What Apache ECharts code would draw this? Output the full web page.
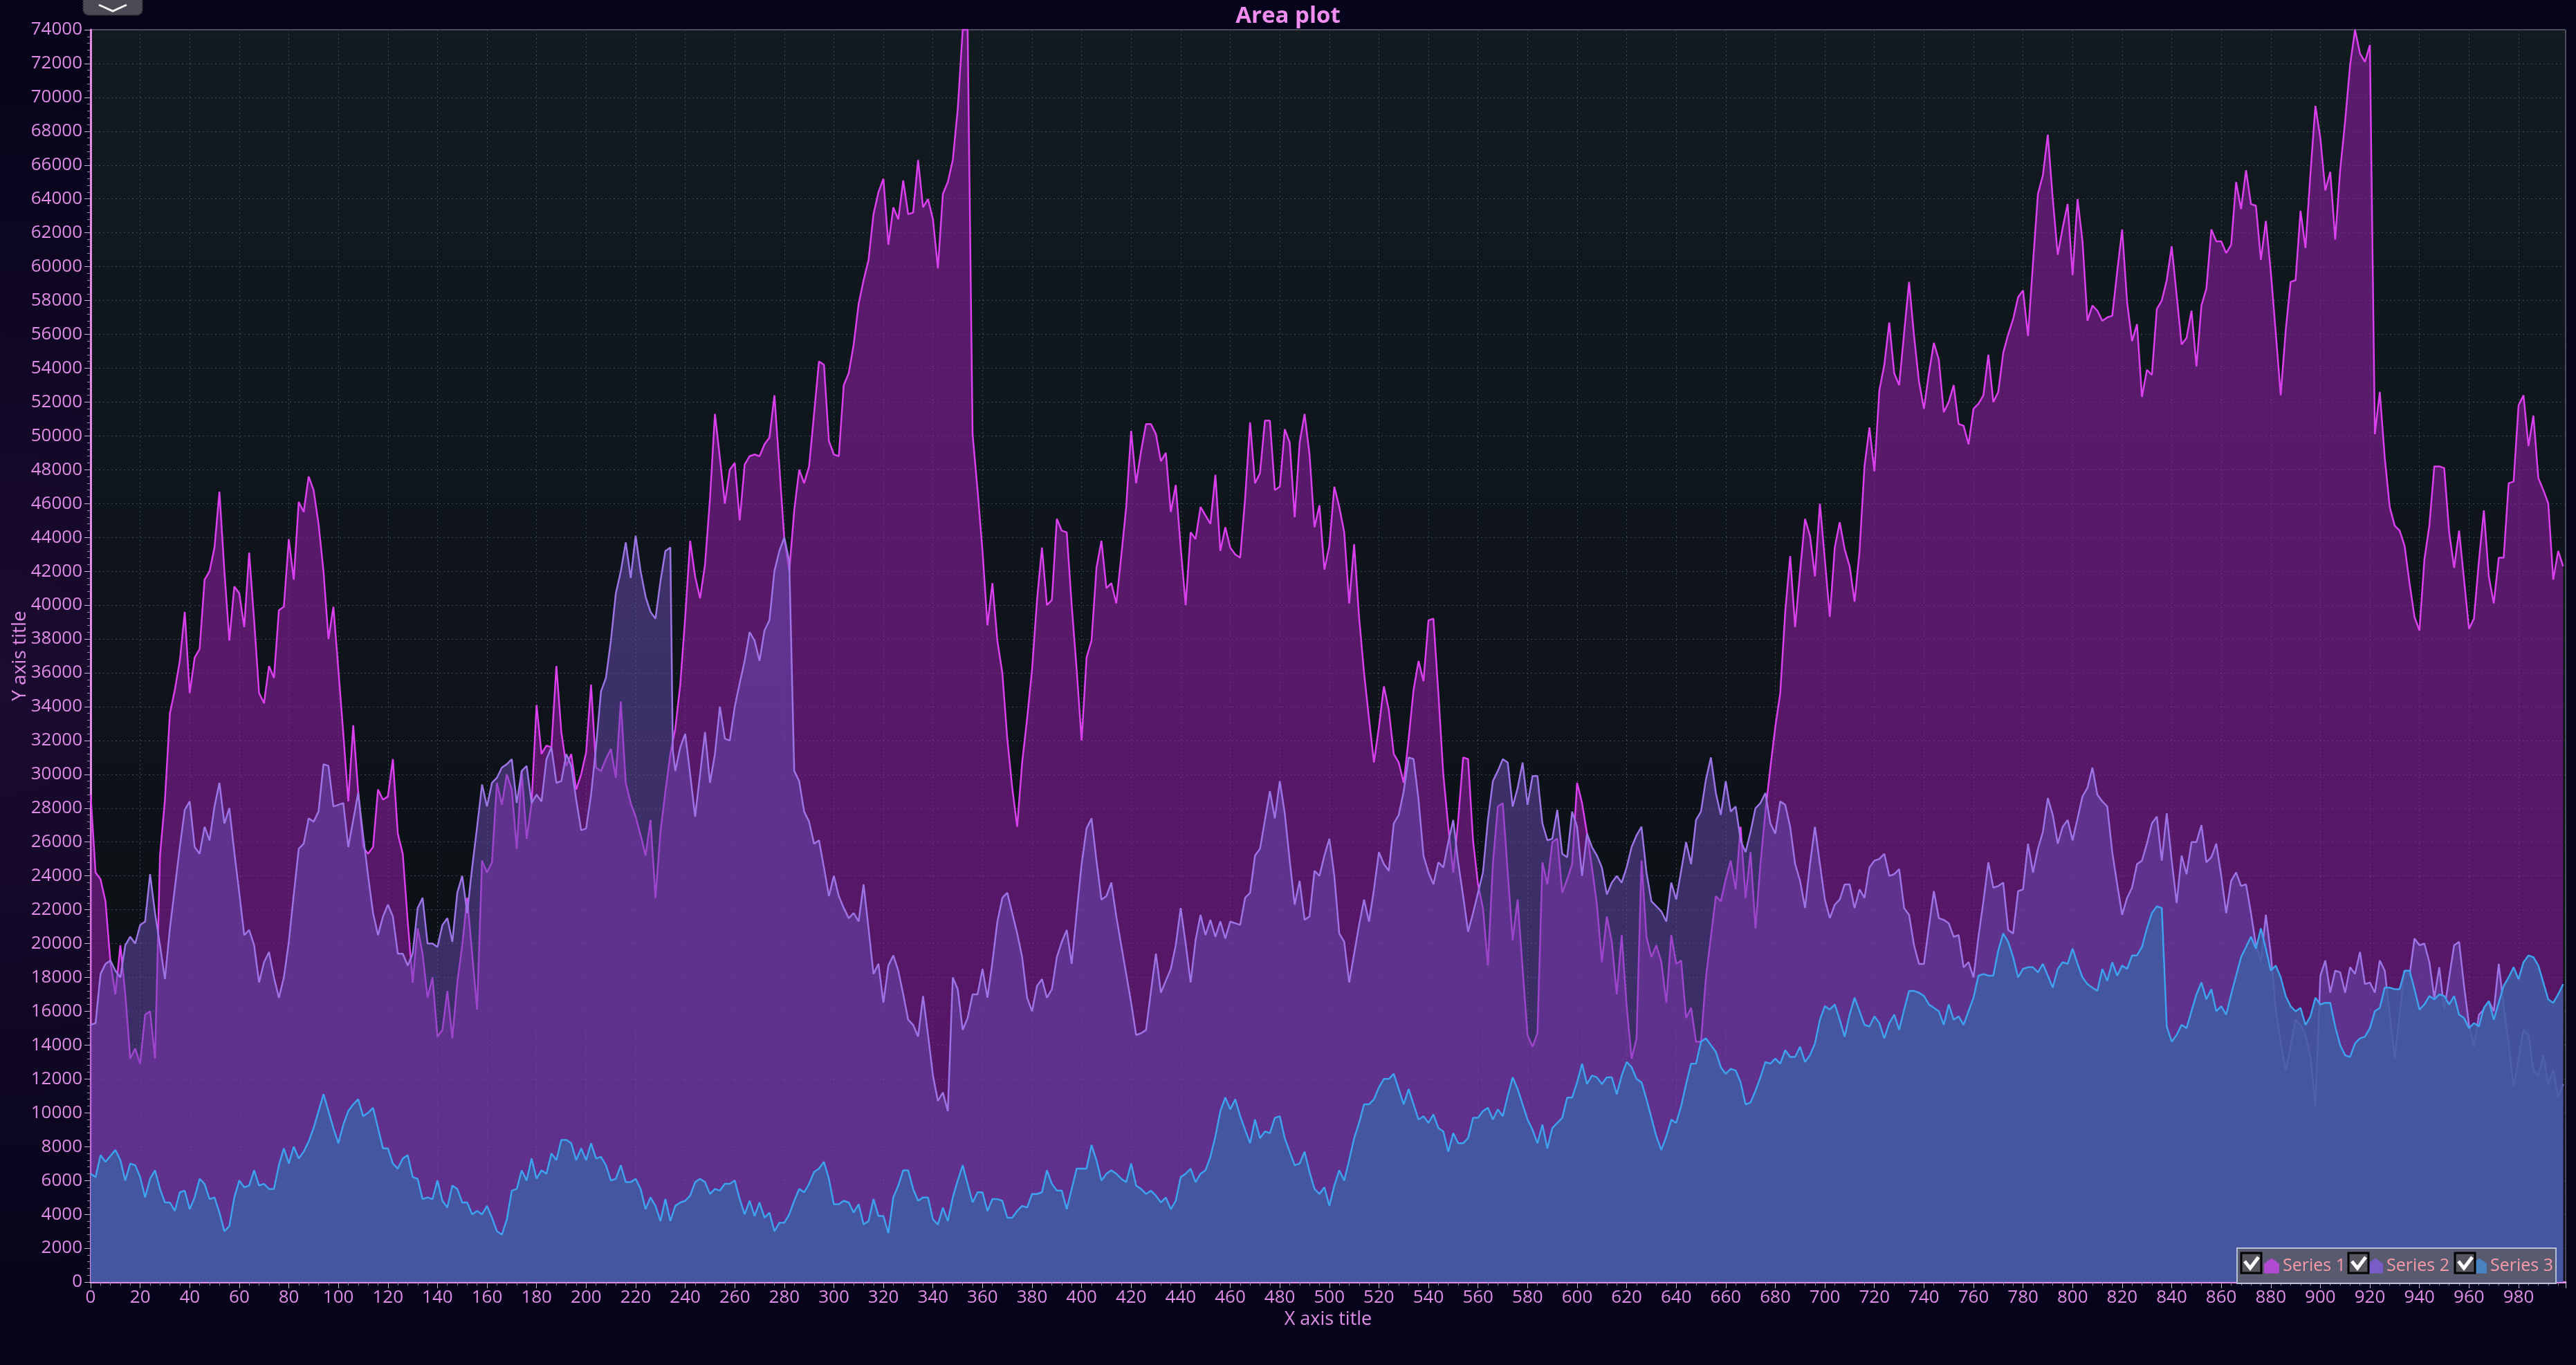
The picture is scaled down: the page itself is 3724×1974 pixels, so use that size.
<html>
<head>
<meta charset="utf-8">
<title>Area plot</title>
<script src="https://cdn.jsdelivr.net/npm/echarts/dist/echarts.min.js"></script>
<style>
  html, body { margin: 0; padding: 0; background: #06041a; }
  #main { width: 3724px; height: 1974px; }
</style>
</head>
<body>
<div id="main"></div>
<script type="text/javascript">
// values, [x, y]
var s1 = [[0,28800],[2,24200],[4,23800],[6,22500],[8,18900],[10,17000],[12,19900],[14,17000],[16,13200],[18,13800],[20,12900],[22,15800],[24,16000],[26,13200],[28,25200],[30,28500],[32,33600],[34,35000],[36,36700],[38,39600],[40,34800],[42,36900],[44,37400],[46,41500],[48,42000],[50,43400],[52,46700],[54,42000],[56,37900],[58,41100],[60,40700],[62,38700],[64,43100],[66,39100],[68,34800],[70,34200],[72,36400],[74,35700],[76,39700],[78,39900],[80,43900],[82,41500],[84,46100],[86,45500],[88,47600],[90,46800],[92,44800],[94,42000],[96,38000],[98,39900],[100,36200],[102,32400],[104,28400],[106,32900],[108,29000],[110,25700],[112,25300],[114,25700],[116,29100],[118,28500],[120,28700],[122,30900],[124,26500],[126,25300],[128,21300],[130,17700],[132,20900],[134,19400],[136,16800],[138,18000],[140,14500],[142,14900],[144,17200],[146,14400],[148,17700],[150,19900],[152,22700],[154,19400],[156,16100],[158,24900],[160,24200],[162,24800],[164,29500],[166,28200],[168,30000],[170,29100],[172,25600],[174,30200],[176,26200],[178,28300],[180,34100],[182,31200],[184,31700],[186,31600],[188,36400],[190,32500],[192,30500],[194,31200],[196,29100],[198,30000],[200,31300],[202,35300],[204,30400],[206,30200],[208,30900],[210,31500],[212,29800],[214,34300],[216,29500],[218,28300],[220,27500],[222,26400],[224,25200],[226,27300],[228,22700],[230,26600],[232,29000],[234,31200],[236,32700],[238,35300],[240,39300],[242,43800],[244,41700],[246,40400],[248,42400],[250,46300],[252,51300],[254,48700],[256,46000],[258,48000],[260,48400],[262,45000],[264,48300],[266,48800],[268,48900],[270,48800],[272,49500],[274,49900],[276,52400],[278,48200],[280,43900],[282,42000],[284,45600],[286,48000],[288,47200],[290,48200],[292,51300],[294,54400],[296,54200],[298,49700],[300,48900],[302,48800],[304,53000],[306,53700],[308,55400],[310,57800],[312,59200],[314,60400],[316,63100],[318,64400],[320,65200],[322,61300],[324,63500],[326,62800],[328,65100],[330,63100],[332,63200],[334,66300],[336,63500],[338,64000],[340,62800],[342,59900],[344,64300],[346,65000],[348,66300],[350,69300],[352,74000],[354,74000],[356,50100],[358,46800],[360,43200],[362,38800],[364,41300],[366,37900],[368,36000],[370,32100],[372,29200],[374,26900],[376,30700],[378,33300],[380,36200],[382,40300],[384,43400],[386,40000],[388,40300],[390,45100],[392,44400],[394,44300],[396,40000],[398,36200],[400,32000],[402,36900],[404,37900],[406,42200],[408,43800],[410,41000],[412,41300],[414,40100],[416,42900],[418,45800],[420,50300],[422,47200],[424,49100],[426,50700],[428,50700],[430,50100],[432,48500],[434,49000],[436,45500],[438,47100],[440,43400],[442,40000],[444,44300],[446,43900],[448,45800],[450,45300],[452,44800],[454,47700],[456,43200],[458,44600],[460,43400],[462,43000],[464,42800],[466,46300],[468,50800],[470,47200],[472,47800],[474,50900],[476,50900],[478,46800],[480,47000],[482,50400],[484,49600],[486,45200],[488,49600],[490,51300],[492,48900],[494,44600],[496,45900],[498,42100],[500,43500],[502,47000],[504,45800],[506,44300],[508,40100],[510,43600],[512,39300],[514,36000],[516,33300],[518,30700],[520,32800],[522,35200],[524,33800],[526,31200],[528,30700],[530,29500],[532,32100],[534,35000],[536,36700],[538,35500],[540,39100],[542,39200],[544,34800],[546,30000],[548,26900],[550,24200],[552,27300],[554,31000],[556,30900],[558,26100],[560,23500],[562,22100],[564,18700],[566,24700],[568,28100],[570,28300],[572,24200],[574,20200],[576,22600],[578,18500],[580,14600],[582,13900],[584,14700],[586,24800],[588,23500],[590,26000],[592,26200],[594,23000],[596,23800],[598,24700],[600,29500],[602,28300],[604,26500],[606,24500],[608,22300],[610,18900],[612,21600],[614,20100],[616,17000],[618,20500],[620,16300],[622,13200],[624,14400],[626,24900],[628,20400],[630,19200],[632,19900],[634,18900],[636,16500],[638,20500],[640,18800],[642,19000],[644,15600],[646,16200],[648,14200],[650,14200],[652,18000],[654,20400],[656,22800],[658,22500],[660,23800],[662,24900],[664,23200],[666,26900],[668,22700],[670,25400],[672,20900],[674,24700],[676,27800],[678,30400],[680,32800],[682,34800],[684,39600],[686,42900],[688,38700],[690,42000],[692,45100],[694,44100],[696,41700],[698,46000],[700,42700],[702,39300],[704,43400],[706,44900],[708,43300],[710,42300],[712,40200],[714,43200],[716,48200],[718,50500],[720,47900],[722,52700],[724,54200],[726,56700],[728,53700],[730,53000],[732,56100],[734,59100],[736,55900],[738,53200],[740,51600],[742,53700],[744,55500],[746,54500],[748,51400],[750,52000],[752,53000],[754,50700],[756,50600],[758,49500],[760,51600],[762,51900],[764,52400],[766,54800],[768,52000],[770,52600],[772,54900],[774,56000],[776,56900],[778,58200],[780,58600],[782,55900],[784,60200],[786,64300],[788,65400],[790,67800],[792,64000],[794,60700],[796,62300],[798,63700],[800,59500],[802,64000],[804,61500],[806,56800],[808,57700],[810,57400],[812,56800],[814,57000],[816,57100],[818,59700],[820,62200],[822,57900],[824,55600],[826,56600],[828,52300],[830,53900],[832,53600],[834,57500],[836,58000],[838,59200],[840,61200],[842,58300],[844,55400],[846,55800],[848,57400],[850,54100],[852,57700],[854,58700],[856,62200],[858,61500],[860,61500],[862,60800],[864,61300],[866,65000],[868,63400],[870,65700],[872,63700],[874,63600],[876,60400],[878,62700],[880,59700],[882,56100],[884,52400],[886,56200],[888,59100],[890,59200],[892,63300],[894,61100],[896,65500],[898,69500],[900,67600],[902,64500],[904,65600],[906,61600],[908,65700],[910,68600],[912,71900],[914,74000],[916,72600],[918,72100],[920,73100],[922,50100],[924,52600],[926,48700],[928,45800],[930,44700],[932,44400],[934,43500],[936,41300],[938,39300],[940,38500],[942,42700],[944,44700],[946,48200],[948,48200],[950,48100],[952,44300],[954,42200],[956,44400],[958,41500],[960,38600],[962,39200],[964,42600],[966,45600],[968,41700],[970,40100],[972,42800],[974,42800],[976,47200],[978,47300],[980,51800],[982,52400],[984,49400],[986,51200],[988,47500],[990,46800],[992,46000],[994,41500],[996,43200],[998,42300]];

var s2 = [[0,15200],[2,15300],[4,18200],[6,18800],[8,19000],[10,18400],[12,18000],[14,19900],[16,20400],[18,20000],[20,21100],[22,21300],[24,24100],[26,21800],[28,19900],[30,17900],[32,20900],[34,23300],[36,25700],[38,27900],[40,28400],[42,25700],[44,25300],[46,26900],[48,26100],[50,28100],[52,29500],[54,27100],[56,28000],[58,25400],[60,23000],[62,20500],[64,20800],[66,19900],[68,17700],[70,18900],[72,19500],[74,18000],[76,16800],[78,18000],[80,20100],[82,22900],[84,25600],[86,25900],[88,27400],[90,27200],[92,27800],[94,30600],[96,30500],[98,28100],[102,28300],[104,25700],[106,27300],[108,28900],[110,26400],[112,24000],[114,21800],[116,20500],[118,21600],[120,22300],[122,21600],[124,19400],[126,19400],[128,18700],[130,19400],[132,22100],[134,22700],[136,20000],[138,20000],[140,19800],[142,21100],[144,21500],[146,20100],[148,23000],[150,24000],[152,21800],[154,24500],[156,26900],[158,29400],[160,28100],[162,29500],[164,29800],[166,30400],[168,30600],[170,30900],[172,28300],[174,30200],[176,30500],[178,28300],[180,28800],[182,28400],[184,30900],[186,31600],[188,29500],[190,29600],[192,31200],[194,30500],[196,28500],[198,26700],[200,26800],[202,28800],[204,31600],[206,34900],[208,35700],[210,37900],[212,40700],[214,42000],[216,43700],[218,41600],[220,44100],[222,42000],[224,40500],[226,39600],[228,39200],[230,41400],[232,43200],[234,43400],[235,31400],[236,30200],[238,31600],[240,32400],[242,30000],[244,27500],[246,30000],[248,32500],[250,29500],[252,31200],[254,34000],[256,32100],[258,32000],[260,34000],[262,35400],[264,36700],[266,38400],[268,37900],[270,36700],[272,38500],[274,39100],[276,42000],[278,43200],[280,44000],[282,42600],[284,30200],[286,29600],[288,27800],[290,27200],[292,25900],[294,26100],[296,24500],[298,22800],[300,24000],[302,22800],[304,22100],[306,21500],[308,21800],[310,21300],[312,23500],[314,20900],[316,18200],[318,18800],[320,16500],[322,18700],[324,19300],[326,18400],[328,17000],[330,15500],[332,15200],[334,14500],[336,16900],[338,14600],[340,12200],[342,10700],[344,11200],[346,10100],[348,18000],[350,17300],[352,14900],[354,15600],[356,17000],[358,17000],[360,18500],[362,16800],[364,18900],[366,21300],[368,22700],[370,23000],[372,21800],[374,20600],[376,19200],[378,16800],[380,16000],[382,17500],[384,17900],[386,16800],[388,17300],[390,19200],[392,20100],[394,20800],[396,18800],[398,21800],[400,24700],[402,26800],[404,27400],[406,24900],[408,22600],[410,22800],[412,23600],[414,21600],[416,19900],[418,18200],[420,16500],[422,14600],[424,14700],[426,14900],[428,17200],[430,19400],[432,17100],[434,17800],[436,18500],[438,19900],[440,22100],[442,20000],[444,17700],[446,20200],[448,21700],[450,20500],[452,21400],[454,20400],[456,21300],[458,20300],[460,21300],[462,21200],[464,21100],[466,22700],[468,23000],[470,25200],[472,25600],[474,27300],[476,29000],[478,27400],[480,29600],[482,27700],[484,24900],[486,22300],[488,23700],[490,21400],[492,21600],[494,24300],[496,24000],[498,25200],[500,26200],[502,24000],[504,20600],[506,20100],[508,17700],[510,19400],[512,21100],[514,22600],[516,21300],[518,23200],[520,25400],[522,24700],[524,24300],[526,27100],[528,27600],[530,29000],[532,31000],[534,30900],[536,28500],[538,25200],[540,24200],[542,23500],[544,24800],[546,24500],[548,26000],[550,27300],[552,24800],[554,22800],[556,20700],[558,21800],[560,23000],[562,24200],[564,27300],[566,29600],[568,30200],[570,30900],[572,30700],[574,28100],[576,29200],[578,30700],[580,28200],[582,29900],[584,29900],[586,27100],[588,26100],[590,26200],[592,27900],[594,25300],[596,25100],[598,27800],[600,26900],[602,24000],[604,26500],[606,25700],[608,25200],[610,24500],[612,22900],[614,23600],[616,24000],[618,23600],[620,24500],[622,25700],[624,26400],[626,26900],[628,24200],[630,22500],[632,22200],[634,21900],[636,21300],[638,23600],[640,22600],[642,24300],[644,26000],[646,24700],[648,27300],[650,27800],[652,29700],[654,31000],[656,28900],[658,27600],[660,29600],[662,27800],[664,28100],[666,26100],[668,25400],[670,26600],[672,28000],[674,28300],[676,28900],[678,27100],[680,26500],[682,28400],[684,28200],[686,26900],[688,24700],[690,23700],[692,22100],[694,24700],[696,26900],[698,24700],[700,22600],[702,21500],[704,22300],[706,22600],[708,23500],[710,23500],[712,22100],[714,23200],[716,22700],[718,24500],[720,24900],[722,25000],[724,25300],[726,24000],[728,24100],[730,24400],[732,22100],[734,21700],[736,19900],[738,18800],[740,18800],[742,21000],[744,23100],[746,21500],[748,21400],[750,21200],[752,20400],[754,20500],[756,18600],[758,18900],[760,18000],[762,20400],[764,22500],[766,24800],[768,23300],[770,23400],[772,23600],[774,20800],[776,20600],[778,23100],[780,23200],[782,25900],[784,24200],[786,25600],[788,26600],[790,28600],[792,27600],[794,25900],[796,26900],[798,27300],[800,26100],[802,27400],[804,28700],[806,29200],[808,30400],[810,28800],[812,28400],[814,28100],[816,25400],[818,23500],[820,21700],[822,22700],[824,23300],[826,24700],[828,24900],[830,25900],[832,27100],[834,27500],[836,24900],[838,27700],[840,24900],[842,22400],[844,25200],[846,24100],[848,26000],[850,26000],[852,27000],[854,24800],[856,25100],[858,25900],[860,24000],[862,21800],[864,23700],[866,24200],[868,23400],[870,23500],[872,21800],[874,19900],[876,18900],[878,21700],[880,19400],[882,16100],[884,14100],[886,12500],[888,13900],[890,15500],[892,15200],[894,14600],[896,13300],[898,10400],[900,18100],[902,19000],[904,17100],[906,18400],[908,18300],[910,17100],[912,18600],[914,18200],[916,19500],[918,17600],[920,17700],[922,17100],[924,19000],[926,18400],[928,15800],[930,13200],[932,15800],[934,18400],[936,18100],[938,20300],[940,19900],[942,20000],[944,18900],[946,16800],[948,18600],[950,16100],[952,18000],[954,19900],[956,20100],[958,17500],[960,15200],[962,13900],[964,15800],[966,16100],[968,16600],[970,16000],[972,18800],[974,16300],[976,14100],[978,11500],[980,13200],[982,14900],[984,14600],[986,12500],[988,12200],[990,13400],[992,11700],[994,12500],[996,10900],[998,11700]];

var s3 = [[0,6400],[2,6200],[4,7500],[6,7100],[10,7800],[12,7200],[14,6000],[16,7000],[18,6900],[20,6200],[22,5000],[24,6100],[26,6600],[28,5500],[30,4700],[32,4700],[34,4200],[36,5300],[38,5400],[40,4300],[42,5000],[44,6100],[46,5800],[48,4900],[50,5000],[52,4100],[54,3000],[56,3300],[58,5000],[60,6000],[62,5600],[64,5700],[66,6600],[68,5700],[70,5800],[72,5500],[74,5500],[76,6900],[78,7900],[80,7000],[82,8000],[84,7300],[86,7700],[88,8300],[90,9100],[92,10100],[94,11100],[96,10100],[98,9100],[100,8200],[102,9300],[104,10100],[106,10500],[108,10800],[110,9800],[112,10000],[114,10300],[116,9100],[118,7900],[120,7900],[122,7000],[124,6700],[126,7300],[128,7500],[130,6200],[132,6100],[134,4900],[136,5000],[138,4900],[140,6000],[142,4800],[144,4400],[146,5700],[148,5500],[150,4700],[152,4700],[154,4000],[156,4200],[158,4000],[160,4500],[162,3800],[164,3000],[166,2800],[168,3700],[170,5400],[172,5500],[174,6600],[176,6000],[178,7300],[180,6100],[182,6600],[184,6400],[186,7600],[188,7200],[190,8400],[192,8400],[194,8200],[196,7200],[198,7900],[200,7200],[202,8200],[204,7300],[206,7400],[208,6900],[210,6000],[212,6100],[214,6900],[216,5900],[218,5900],[220,6100],[222,5500],[224,4300],[226,5000],[228,4500],[230,3600],[232,4900],[234,3600],[236,4500],[238,4700],[240,4800],[242,5100],[244,5900],[246,6100],[248,5900],[250,5200],[252,5500],[254,5400],[256,5800],[258,5800],[260,6000],[262,4900],[264,4000],[266,4800],[268,3900],[270,4700],[272,3800],[274,4100],[276,3000],[278,3500],[280,3500],[282,4000],[284,4800],[286,5500],[288,5300],[290,5800],[292,6500],[294,6700],[296,7100],[298,6100],[300,4600],[302,4600],[304,4800],[306,4700],[308,4100],[310,4600],[312,3400],[314,3600],[316,4900],[318,3900],[320,3900],[322,2900],[324,5000],[326,5700],[328,6600],[330,6600],[332,5500],[334,4800],[336,5000],[338,5000],[340,3700],[342,3400],[344,4400],[346,3600],[348,5000],[350,6000],[352,6900],[354,5800],[356,4700],[358,5300],[360,5300],[362,4200],[364,4900],[366,4900],[368,4800],[370,3800],[372,3800],[374,4200],[376,4500],[378,4400],[380,5200],[382,5200],[384,5300],[386,6600],[388,5800],[390,5400],[392,5400],[394,4300],[396,5500],[398,6700],[400,6700],[402,6700],[404,8100],[406,7200],[408,6000],[410,6400],[412,6600],[414,6400],[416,6100],[418,5900],[420,7000],[422,5700],[424,5500],[426,5200],[428,5400],[430,5100],[432,4700],[434,5000],[436,4300],[438,4800],[440,6200],[442,6400],[444,6700],[446,5900],[448,6400],[450,6600],[452,7400],[454,8600],[456,10100],[458,10900],[460,10200],[462,10800],[464,9800],[466,9000],[468,8200],[470,9600],[472,8500],[474,8900],[476,8800],[478,9700],[480,9800],[482,8500],[484,7700],[486,6900],[488,7000],[490,7700],[492,6500],[494,5500],[496,5200],[498,5600],[500,4500],[502,5700],[504,6600],[506,6000],[508,7200],[510,8500],[512,9400],[514,10500],[516,10500],[518,10800],[520,11500],[522,12000],[524,12000],[526,12300],[528,11400],[530,10500],[532,11400],[534,10500],[536,9600],[538,9800],[540,9400],[542,9900],[544,9100],[546,8900],[548,7700],[550,8800],[552,8200],[554,8200],[556,8500],[558,9700],[560,9700],[562,10100],[564,10300],[566,9600],[568,10200],[570,9800],[572,11000],[574,12100],[576,11400],[578,10500],[580,9600],[582,9000],[584,8200],[586,9300],[588,7900],[590,9100],[592,9400],[594,9700],[596,10900],[598,10900],[600,11800],[602,12900],[604,11700],[606,12200],[608,12100],[610,11700],[612,12100],[614,12100],[616,11100],[618,12200],[620,13000],[622,12700],[624,12000],[626,11800],[628,10800],[630,9700],[632,8600],[634,7800],[636,8600],[638,9600],[640,9400],[642,10400],[644,11700],[646,12900],[648,12900],[650,14200],[652,14400],[654,14000],[656,13600],[658,12700],[660,12300],[662,12600],[664,12500],[666,11800],[668,10500],[670,10600],[672,11300],[674,12100],[676,13000],[678,12900],[680,13200],[682,12900],[684,13700],[686,13300],[688,13300],[690,13900],[692,13000],[694,13400],[696,14100],[698,15500],[700,16300],[702,16100],[704,16400],[706,15500],[708,14500],[710,15800],[712,16800],[714,16000],[716,15200],[718,15100],[720,15700],[722,15300],[724,14400],[726,15300],[728,15800],[730,14900],[732,16100],[734,17200],[736,17200],[738,17100],[740,16900],[742,16400],[744,16200],[746,16000],[748,15200],[750,16400],[752,15500],[754,15700],[756,15200],[758,16000],[760,16800],[762,18100],[764,18200],[766,18100],[768,18100],[770,19600],[772,20600],[774,20100],[776,19200],[778,18000],[780,18500],[782,18600],[784,18600],[786,18300],[788,18800],[790,18100],[792,17400],[794,18500],[796,18900],[798,18800],[800,19700],[802,18800],[804,18000],[806,17600],[808,17400],[810,17200],[812,18500],[814,17800],[816,18900],[818,18100],[820,18700],[822,18500],[824,19300],[826,19300],[828,19800],[830,20900],[832,21800],[834,22200],[836,22100],[838,15100],[840,14200],[842,14600],[844,15200],[846,15000],[848,16000],[850,17000],[852,17700],[854,16700],[856,17300],[858,16000],[860,16300],[862,15800],[864,17000],[866,18100],[868,19200],[870,19800],[872,20400],[874,19700],[876,20900],[878,19700],[880,18400],[882,18700],[884,18000],[886,16900],[888,16300],[890,16000],[892,16200],[894,15200],[896,15700],[898,16800],[900,16400],[902,16500],[904,16500],[906,15100],[908,14000],[910,13400],[912,13300],[914,14100],[916,14400],[918,14500],[920,15000],[922,16000],[924,16200],[926,17400],[928,17400],[930,17300],[932,17300],[934,18400],[936,18400],[938,17300],[940,16100],[942,16400],[944,16900],[946,16700],[948,17000],[950,16900],[952,16400],[954,16900],[956,15800],[958,15600],[960,15000],[962,15300],[964,15100],[966,16200],[968,16600],[970,15500],[972,16500],[974,17500],[976,18000],[978,18600],[980,17900],[982,18900],[984,19300],[986,19200],[988,18700],[990,17700],[992,16700],[994,16500],[996,17000],[998,17600]];

var seriesNames = ['Series 1', 'Series 2', 'Series 3'];
var lineColors = ['#da40ee', '#9c74e6', '#3ea2ee'];
var areaColors = ['rgba(150,30,172,0.55)', 'rgba(104,74,176,0.52)', 'rgba(64,92,163,0.86)'];
var swatchColors = ['#b24ad0', '#7a5cc6', '#4a84c0'];

var labelColor = '#e08ce6';
var fontFam = '"Open Sans", "Noto Sans", sans-serif';

var myChart = echarts.init(document.getElementById('main'));

// checkboxes in front of the legend entries
var boxX = [3240, 3395, 3549];
var boxY = 1812;
var graphics = [
    { type: 'rect', z: 10, shape: { x: 120, y: -8, width: 86, height: 30, r: [0, 0, 8, 8] },
      style: { fill: '#4a4a54', stroke: '#2c2c33', lineWidth: 2, lineDash: [2, 2] } },
    { type: 'polyline', z: 11, shape: { points: [[143, 7], [163, 16], [183, 7]] },
      style: { stroke: '#f2f2f2', lineWidth: 3, fill: null } }
];
for (var i = 0; i < boxX.length; i++) {
    graphics.push({ type: 'rect', z: 30, shape: { x: boxX[i], y: boxY, width: 29, height: 29 },
        style: { fill: '#55555d', stroke: '#000', lineWidth: 3 } });
    graphics.push({ type: 'polyline', z: 31,
        shape: { points: [[boxX[i] + 5, boxY + 12], [boxX[i] + 13, boxY + 22], [boxX[i] + 25, boxY + 6]] },
        style: { stroke: '#fff', lineWidth: 5, fill: null } });
}

var seriesList = [];
var dataList = [s1, s2, s3];
for (var k = 0; k < 3; k++) {
    seriesList.push({
        name: seriesNames[k],
        type: 'line',
        data: dataList[k],
        z: 2 + k,
        symbol: 'none',
        showSymbol: false,
        itemStyle: { color: swatchColors[k] },
        lineStyle: { color: lineColors[k], width: 2.5 },
        areaStyle: { color: areaColors[k], opacity: 1 }
    });
}

var option = {
    animation: false,
    backgroundColor: {
        type: 'radial', x: 0, y: 0.5, r: 0.45,
        colorStops: [{ offset: 0, color: '#1d0b31' }, { offset: 1, color: '#06041a' }]
    },
    title: {
        text: 'Area plot',
        left: 'center',
        top: 2,
        textStyle: { color: '#f08cf0', fontSize: 33, fontWeight: 'bold', fontFamily: fontFam }
    },
    legend: {
        data: seriesNames,
        z: 20,
        left: 3234,
        top: 1805,
        orient: 'horizontal',
        padding: [13, 4, 13, 39],
        itemWidth: 22,
        itemHeight: 22,
        itemGap: 32,
        icon: 'path://M0,8 L11,0 L22,8 L22,22 L0,22 Z',
        backgroundColor: 'rgba(92,90,102,0.85)',
        borderColor: '#b4c0da',
        borderWidth: 2,
        textStyle: { color: '#f59aa8', fontSize: 25, fontFamily: fontFam, width: 96, overflow: 'truncate' }
    },
    grid: {
        left: 131, right: 15, top: 43, bottom: 120,
        show: true,
        outerBoundsMode: 'none',
        backgroundColor: new echarts.graphic.LinearGradient(0, 0, 0, 1, [
            { offset: 0, color: '#121b20' }, { offset: 1, color: '#0a0d13' }
        ]),
        borderColor: '#8c8ca0',
        borderWidth: 1
    },
    xAxis: {
        type: 'value',
        min: 0, max: 999, interval: 20,
        name: 'X axis title',
        nameLocation: 'middle',
        nameGap: 36,
        nameTextStyle: { color: labelColor, fontSize: 27, fontFamily: fontFam },
        axisLine: { show: true, onZero: false, lineStyle: { color: '#e48ce8', width: 3 } },
        axisTick: { show: true, length: 9, lineStyle: { color: '#c9b4d2', width: 1 } },
        minorTick: { show: true, splitNumber: 5, length: 5, lineStyle: { color: '#9a8aa8', width: 1 } },
        axisLabel: { color: labelColor, fontSize: 26, fontFamily: fontFam, margin: 10, showMaxLabel: false },
        splitLine: { show: true, lineStyle: { color: '#3d4a52', width: 1, type: [2, 4] } }
    },
    yAxis: {
        type: 'value',
        min: 0, max: 74000, interval: 2000,
        name: 'Y axis title',
        nameLocation: 'middle',
        nameGap: 88,
        nameMoveOverlap: false,
        nameTextStyle: { color: labelColor, fontSize: 28, fontFamily: fontFam },
        axisLine: { show: true, onZero: false, lineStyle: { color: '#e48ce8', width: 3 } },
        axisTick: { show: true, length: 9, lineStyle: { color: '#c9b4d2', width: 1 } },
        minorTick: { show: true, splitNumber: 5, length: 5, lineStyle: { color: '#9a8aa8', width: 1 } },
        axisLabel: {
            color: labelColor, fontSize: 26, fontFamily: fontFam, margin: 12,
            formatter: function (v) { return String(v); }
        },
        splitLine: { show: true, lineStyle: { color: '#3d4a52', width: 1, type: [2, 4] } }
    },
    graphic: graphics,
    series: seriesList
};

myChart.setOption(option);
</script>
</body>
</html>
